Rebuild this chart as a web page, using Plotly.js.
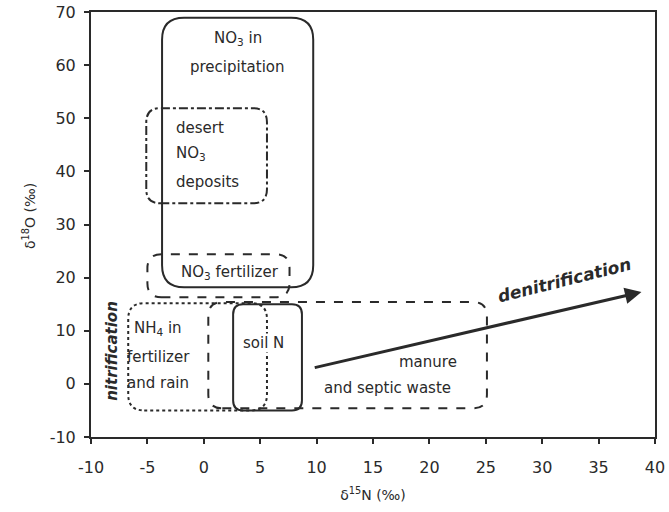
<!DOCTYPE html>
<html>
<head>
<meta charset="utf-8">
<script src="https://cdn.plot.ly/plotly-3.0.1.min.js"></script>
<style>html,body{margin:0;padding:0;background:#fff;}</style>
</head>
<body>
<div id="chart" style="width:669px;height:512px;"></div>
<script>
// Source fields (δ15N range, δ18O range)
const boxNames = ['NO3 in precipitation', 'desert NO3 deposits', 'NO3 fertilizer', 'NH4 in fertilizer and rain', 'soil N', 'manure and septic waste'];
const boxN0 = [-3.7, -5.1, -5.0, -6.7, 2.6, 0.4];
const boxN1 = [9.7, 5.6, 7.6, 5.6, 8.7, 25.1];
const boxO0 = [18.2, 34.0, 16.3, -5.0, -5.0, -4.6];
const boxO1 = [68.9, 51.9, 24.4, 15.2, 15.0, 15.4];
const boxDash = ['solid', 'dashdot', 'dash', 'dot', 'solid', 'dash'];

// Box labels
const labelTexts = ['NO<sub>3</sub> in', 'precipitation', 'desert', 'NO<sub>3</sub>', 'deposits', 'NO<sub>3</sub> fertilizer', 'NH<sub>4</sub> in', 'fertilizer', 'and rain', 'soil N', 'manure', 'and septic waste'];
const labelN = [3.0, 3.0, -2.55, -2.55, -2.55, 2.3, -4.06, -4.06, -4.06, 5.25, 19.9, 16.3];
const labelO = [65.1, 59.6, 48.2, 43.4, 38.0, 21.0, 10.5, 5.0, 0.1, 7.7, 4.1, -0.8];
const labelAlign = ['center', 'center', 'left', 'left', 'left', 'center', 'center', 'center', 'center', 'center', 'center', 'center'];

// Process arrows / labels
const arrowStart = [9.7, 3.0];
const arrowEnd = [38.8, 17.3];
const denitLabel = {text: 'denitrification', n: 32.0, o: 19.6};
const nitLabel = {text: 'nitrification', n: -8.1, o: 6.3};

const xTicks = [-10, -5, 0, 5, 10, 15, 20, 25, 30, 35, 40];
const yTicks = [-10, 0, 10, 20, 30, 40, 50, 60, 70];
const xTitle = 'δ<sup>15</sup>N (‰)';
const yTitle = 'δ<sup>18</sup>O (‰)';

const W = 669, H = 512;
const M = {l: 91, r: 14, t: 12, b: 75};
const pxX = (W - M.l - M.r) / (xTicks[xTicks.length - 1] - xTicks[0]);
const pxY = (H - M.t - M.b) / (yTicks[yTicks.length - 1] - yTicks[0]);
const radii = [22, 14, 14, 16, 10, 14];
const ink = '#2a2a2a';
const fam = 'DejaVu Sans, Liberation Sans, Arial, sans-serif';

function roundRect(x0, x1, y0, y1, r) {
  const rx = r / pxX, ry = r / pxY;
  return `M${x0 + rx},${y0} L${x1 - rx},${y0} Q${x1},${y0} ${x1},${y0 + ry} ` +
    `L${x1},${y1 - ry} Q${x1},${y1} ${x1 - rx},${y1} L${x0 + rx},${y1} ` +
    `Q${x0},${y1} ${x0},${y1 - ry} L${x0},${y0 + ry} Q${x0},${y0} ${x0 + rx},${y0} Z`;
}

const shapes = boxNames.map((nm, i) => ({
  type: 'path', xref: 'x', yref: 'y', layer: 'below',
  path: roundRect(boxN0[i], boxN1[i], boxO0[i], boxO1[i], radii[i]),
  line: {color: ink, width: 2, dash: boxDash[i]},
  fillcolor: 'rgba(0,0,0,0)'
}));

const font = {family: fam, size: 15, color: ink};
const annotations = labelTexts.map((t, i) => ({
  x: labelN[i], y: labelO[i], xref: 'x', yref: 'y', text: t, showarrow: false,
  xanchor: labelAlign[i] === 'left' ? 'left' : 'center', yanchor: 'middle', font: font,
  bgcolor: labelTexts[i] === 'soil N' ? '#ffffff' : 'rgba(0,0,0,0)', borderpad: 0
}));
annotations.push({
  x: arrowEnd[0], y: arrowEnd[1], ax: arrowStart[0], ay: arrowStart[1],
  xref: 'x', yref: 'y', axref: 'x', ayref: 'y', text: '', showarrow: true,
  arrowhead: 2, arrowsize: 1.1, arrowwidth: 3, arrowcolor: ink, standoff: 0, startstandoff: 0
});
annotations.push({
  x: denitLabel.n, y: denitLabel.o, xref: 'x', yref: 'y', text: '<b><i>' + denitLabel.text + '</i></b>',
  showarrow: false, textangle: -14, font: {family: fam, size: 17, color: ink}
});
annotations.push({
  x: nitLabel.n, y: nitLabel.o, xref: 'x', yref: 'y', text: '<b><i>' + nitLabel.text + '</i></b>',
  showarrow: false, textangle: -90, font: {family: fam, size: 15, color: ink}
});
// y-axis title placed at its position in the reference
annotations.push({
  x: 0, xref: 'paper', xanchor: 'center', xshift: -62, y: 31.6, yref: 'y', yanchor: 'middle',
  text: yTitle, showarrow: false, textangle: -90, font: {family: fam, size: 14, color: ink}
});

const axisCommon = {
  showgrid: false, zeroline: false, showline: true, mirror: true,
  linecolor: ink, linewidth: 2, ticks: 'outside', ticklen: 5, tickwidth: 2, tickcolor: ink,
  tickfont: {family: fam, size: 16, color: ink}
};

const layout = {
  width: W, height: H, margin: M,
  paper_bgcolor: '#fff', plot_bgcolor: '#fff', showlegend: false,
  xaxis: Object.assign({}, axisCommon, {
    range: [xTicks[0], xTicks[xTicks.length - 1]], tickvals: xTicks, ticktext: xTicks.map(String),
    ticklabelstandoff: 10,
    title: {text: xTitle, font: {family: fam, size: 14, color: ink}, standoff: 14}
  }),
  yaxis: Object.assign({}, axisCommon, {
    range: [yTicks[0], yTicks[yTicks.length - 1]], tickvals: yTicks, ticktext: yTicks.map(String),
    ticklabelstandoff: 5
  }),
  shapes: shapes,
  annotations: annotations
};

Plotly.newPlot('chart', [{x: [], y: [], type: 'scatter', mode: 'markers', hoverinfo: 'skip'}], layout, {staticPlot: true, displayModeBar: false});
</script>
</body>
</html>
